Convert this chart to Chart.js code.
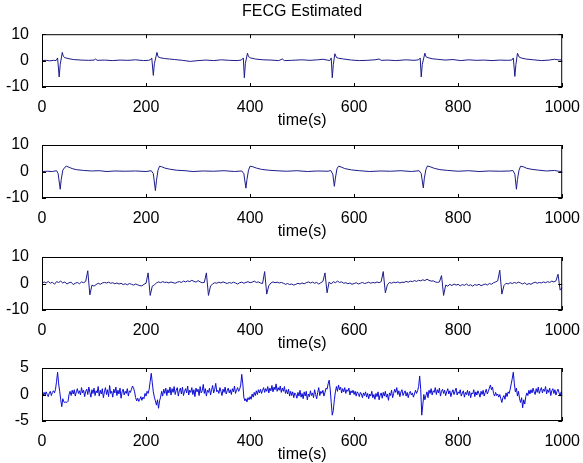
<!DOCTYPE html>
<html>
<head>
<meta charset="utf-8">
<script src="https://cdn.jsdelivr.net/npm/chart.js@4"></script>
<style>
  html, body { margin: 0; padding: 0; background: #fff; }
  #figure { position: relative; width: 583px; height: 463px; overflow: hidden; background: #fff; }
  #figure canvas { position: absolute; left: 0; }
</style>
</head>
<body>
<div id="figure">
  <canvas id="panel1" width="583" height="132" style="top:0px"></canvas>
  <canvas id="panel2" width="583" height="131" style="top:112px"></canvas>
  <canvas id="panel3" width="583" height="131" style="top:224px"></canvas>
  <canvas id="panel4" width="583" height="131" style="top:335px"></canvas>
</div>
<script>
// tick values
const timeTicks = [0, 200, 400, 600, 800, 1000];
const wideTicks = [-10, 0, 10];
const narrowTicks = [-5, 0, 5];

// trace 1: estimated FECG (sparse breakpoints)
const trace1Time = [0, 8, 15, 22, 27, 30, 33, 35, 39, 41, 44, 50, 60, 75, 90, 100, 103, 106, 120, 135, 150, 165, 180, 195,
  205, 209, 211, 214, 216, 221, 223, 227, 235, 245, 255, 270, 285, 300, 315, 330, 345, 360, 375,
  383, 387, 389, 391, 395, 397, 401, 410, 425, 440, 455, 462, 466, 480, 500, 515, 530, 540,
  548, 553, 556, 558, 560, 563, 566, 570, 580, 595, 610, 625, 640, 648, 652, 665, 680, 700, 715,
  724, 727, 729, 731, 736, 738, 742, 750, 760, 775, 790, 805, 820, 835, 850, 865, 880, 895,
  903, 906, 909, 911, 914, 917, 921, 930, 945, 960, 975, 985, 992, 1000];
const trace1Values = [0, 0.1, -0.1, 0.1, 0.0, 1.0, -6.2, -1.5, 3.1, 1.6, 1.1, 0.8, 0.4, 0.2, 0.1, 0.2, 0.6, 0.1, 0.2, 0.0, 0.2, 0.1, 0.3, 0.0,
  0.1, 0.4, 1.0, -5.6, -1.2, 3.1, 1.5, 1.1, 0.8, 0.6, 0.4, 0.1, -0.3, 0.0, 0.2, 0.0, 0.3, 0.1, 0.0,
  0.2, 1.0, -6.5, -1.0, 2.8, 1.5, 1.0, 0.6, 0.3, 0.2, 0.0, 0.6, 0.0, 0.1, 0.3, 0.1, 0.3, 0.5,
  0.2, 0.0, 1.0, -6.5, -1.5, 2.6, 1.2, 0.9, 0.6, 0.2, 0.0, 0.1, 0.3, 0.6, 0.1, 0.2, 0.0, 0.3, 0.1,
  0.3, 1.0, -6.2, -1.5, 2.8, 1.5, 1.1, 0.7, 0.5, 0.2, 0.4, 0.0, 0.3, 0.1, 0.2, 0.0, 0.2, 0.1,
  0.2, 1.0, -6.0, -1.5, 2.8, 1.4, 1.0, 0.6, 0.3, 0.0, 0.2, 0.5, 0.3, 0.2];

// trace 2: estimated FECG, second channel
const trace2Time = [0, 10, 20, 28, 31, 35, 37, 40, 44, 47, 52, 58, 66, 80, 95, 110, 125, 140, 160, 180, 200,
  210, 214, 218, 220, 223, 226, 230, 236, 245, 258, 275, 290, 310, 330, 350, 370,
  384, 388, 392, 394, 397, 400, 405, 412, 422, 435, 450, 470, 490, 510, 530, 550,
  555, 559, 562, 564, 567, 570, 575, 582, 595, 610, 630, 650, 670, 690, 710,
  725, 729, 733, 735, 738, 741, 746, 754, 765, 780, 800, 820, 840, 860, 880, 900,
  905, 909, 912, 914, 917, 920, 925, 932, 942, 955, 970, 985, 993, 1000];
const trace2Values = [0, 0.1, 0.0, 0.3, -0.8, -6.7, -3.0, 0.5, 1.6, 2.0, 1.6, 1.1, 0.7, 0.4, 0.2, 0.3, 0.0, 0.2, 0.1, 0.2, 0.0,
  0.3, -0.8, -7.2, -3.5, 0.5, 2.0, 1.8, 1.3, 0.9, 0.5, 0.3, 0.0, 0.2, 0.1, 0.3, 0.0,
  0.2, -0.8, -6.3, -3.0, 0.5, 2.0, 1.8, 1.3, 0.8, 0.5, 0.3, 0.1, 0.3, 0.0, 0.2, 0.1,
  0.4, -1.0, -5.6, -2.5, 1.0, 2.0, 1.7, 1.1, 0.6, 0.3, 0.0, 0.2, 0.1, 0.3, 0.0,
  0.3, -0.8, -6.2, -2.5, 0.8, 2.1, 1.8, 1.2, 0.7, 0.4, 0.1, 0.3, 0.0, 0.2, 0.1, 0.2,
  0.4, -1.0, -6.7, -3.0, 0.5, 2.0, 1.8, 1.2, 0.8, 0.5, 0.2, 0.4, 0.1, 0.0];

// trace 3: one sample every 4 time units, starting at 0
const trace3Step = 4;
const trace3Values = [
  0.0, 0.6, 0.2, 0.8, 0.1, 0.5, -0.3, 0.7, 0.4, 0.9,
  0.2, 0.6, -0.2, 0.3, 0.5, -0.4, 0.1, 0.4, -0.1, 0.6,
  0.3, 0.8, 4.8, -4.3, -0.6, -1.0, -0.4, 0.1, -0.3, 0.2,
  0.4, 0.2, 0.5, 0.1, 0.3, -0.1, 0.2, -0.2, 0.1, -0.4,
  -0.1, -0.5, 0.0, -0.3, -0.6, -0.2, -0.5, -0.8, -0.9, -0.3,
  0.1, 4.0, -4.5, -1.0, -0.5, 0.2, 0.6, 0.3, 0.7, 0.4,
  0.5, 0.2, 0.6, 0.3, 0.1, 0.5, 0.7, 0.4, 0.9, 0.6,
  1.0, 0.7, 1.2, 0.8, 0.5, 1.1, 0.6, 0.3, 0.4, 4.0,
  -4.5, -0.9, -0.2, 0.3, 0.1, 0.5, 0.2, 0.6, 0.3, 0.0,
  0.4, 0.1, 0.5, 0.2, -0.2, 0.3, 0.5, 0.1, 0.4, 0.7,
  0.3, 0.5, 0.9, 0.4, 0.6, 0.2, 0.0, 4.5, -4.0, -0.8,
  0.2, 0.6, 0.3, 0.5, 0.2, 0.4, 0.1, -0.3, 0.0, -0.4,
  -0.2, -0.6, -0.3, 0.1, -0.2, 0.2, -0.1, 0.3, 0.6, 0.2,
  0.5, 0.1, 0.4, -0.2, 0.3, 0.8, 4.0, -3.5, 0.6, -0.2,
  0.7, 0.3, 0.9, 0.4, 0.6, 0.1, 0.3, -0.1, 0.2, -0.3,
  0.0, 0.3, -0.2, 0.1, 0.4, 0.0, 0.2, 0.5, 0.1, 0.4,
  0.2, 0.6, 0.3, 0.7, 4.5, -3.5, -0.5, 0.4, 0.1, 0.5,
  0.3, 0.6, 0.2, 0.5, 0.4, 0.8, 0.5, 0.9, 0.7, 1.1,
  0.8, 1.2, 1.0, 1.4, 1.1, 1.6, 1.2, 0.9, 1.0, 0.6,
  0.4, 0.6, 3.0, -4.5, -0.6, -1.0, -0.3, -0.8, -0.2, -0.6,
  -0.3, -0.9, -0.4, -0.7, -0.2, -0.8, -0.5, -1.0, -0.4, -0.7,
  -0.3, -0.8, -0.5, -0.2, -0.6, 0.0, -0.3, 0.3, 0.6, 1.0,
  5.0, -4.0, -0.8, 0.1, -0.2, 0.3, 0.0, 0.4, 0.1, 0.5,
  0.2, -0.2, 0.3, -0.4, 0.0, -0.3, 0.2, 0.5, 0.1, 0.4,
  0.2, 0.6, 0.3, 0.7, 0.4, 0.9, 0.6, 1.0, 3.5, -2.5,
  -1.5];

// trace 4: one sample every 2 time units, starting at 0
const trace4Step = 2;
const trace4Values = [
  0.2, -0.3, 0.4, -0.1, 0.5, 0.0, -0.4, 0.3, 0.6, -0.2,
  0.4, 0.7, 0.3, 1.0, 2.5, 4.2, 2.0, 0.6, -1.0, -2.3,
  -0.8, -1.4, -1.5, -1.4, -1.5, -1.3, 0.0, 0.6, -0.2, 0.8,
  0.1, 0.9, -0.3, 0.5, 1.1, 0.2, 0.7, -0.1, 1.3, 0.3,
  0.8, -0.4, 0.6, 1.0, 0.0, 1.4, 0.4, -0.5, 0.9, 0.2,
  1.2, -0.2, 0.7, 0.3, 1.5, -0.3, 0.8, 0.1, 1.1, -0.6,
  0.5, 1.3, 0.0, 0.9, -0.4, 1.7, 0.2, 0.6, -0.5, 1.0,
  0.3, 1.4, -0.2, 0.8, 0.1, 1.2, -0.7, 0.5, 1.0, -0.1,
  0.6, 0.2, 1.1, -0.3, 0.7, 0.4, 1.0, 1.6, 1.2, 0.5,
  -0.6, -1.2, -0.7, -1.3, -0.9, -0.4, -1.1, -0.5, -0.8, 0.2,
  -0.3, 0.6, 0.2, 1.0, 2.5, 4.0, 2.2, 0.5, -0.5, -1.2,
  -2.0, -1.0, -2.6, -1.2, -0.5, 0.6, -0.3, 1.0, 0.2, 1.2,
  -0.2, 0.9, 0.3, 1.4, -0.1, 1.1, 0.4, 1.5, 0.0, 0.8,
  1.3, -0.3, 0.7, 1.2, 0.1, 1.4, -0.2, 0.6, 1.1, 0.3,
  1.6, -0.1, 0.8, 0.4, 1.3, 0.0, 0.9, -0.4, 1.2, 0.5,
  1.0, -0.2, 1.5, 0.3, 0.7, 1.9, 0.2, 1.1, -0.3, 0.8,
  0.4, 1.2, -0.1, 0.9, 1.7, 0.3, 1.0, 2.1, 0.5, 0.8,
  0.2, 1.3, 0.6, -0.2, 1.0, 0.4, 1.4, 0.1, 0.7, 1.2,
  0.3, 0.9, 0.0, 1.1, 0.5, 1.6, 0.2, 0.8, 1.3, 0.6,
  1.0, 1.8, 3.8, 2.0, -0.5, -1.2, -0.8, -1.4, -0.6, -1.0,
  -0.4, -0.9, 0.1, -0.5, 0.4, -0.2, 0.7, 0.0, 0.9, 0.3,
  1.0, 0.2, 0.8, 1.3, 0.4, 1.1, 0.6, 1.5, 0.3, 1.2,
  0.7, 1.7, 0.5, 1.4, 0.9, 2.0, 0.6, 1.3, 0.8, 1.6,
  0.4, 1.2, 0.6, 1.5, 0.2, 0.9, 0.1, 1.0, -0.3, 0.6,
  -0.2, 0.5, -0.6, 0.3, 0.0, -0.7, 0.4, -0.3, 0.8, -0.5,
  0.2, -0.8, 0.5, -0.3, 0.6, -1.0, 0.1, -0.4, 0.7, -0.2,
  0.3, -0.6, 0.9, 0.0, -0.8, 0.4, 1.3, -0.2, 0.6, 0.2,
  0.8, -0.3, 0.4, 1.2, 1.0, 2.0, 2.7, 1.0, -1.5, -3.9,
  -3.0, -1.0, 0.5, 1.5, 0.6, 1.8, 0.9, 1.4, 0.3, 1.1,
  0.5, 1.3, 0.2, 0.9, 0.6, 1.2, -0.1, 0.7, 0.3, 0.8,
  0.0, 0.6, -0.3, 0.5, 0.2, -0.4, 0.4, 0.1, -0.6, 0.3,
  -0.2, 0.5, -0.5, 0.2, -0.8, 0.1, -0.3, 0.6, -0.6, 0.0,
  -0.9, 0.2, -0.4, 0.5, -1.0, -0.1, 0.3, -0.7, 0.4, -0.3,
  0.6, -0.5, 0.1, -1.1, 0.3, -0.2, 0.8, -0.6, 0.2, 1.0,
  0.4, 1.3, 0.0, 0.7, -0.4, 0.5, 0.9, -0.2, 0.3, 0.7,
  -0.3, 0.4, -0.6, 0.2, 0.6, -0.1, 0.3, -0.5, 0.1, 0.8,
  0.2, 0.7, 1.5, 3.5, 1.0, -3.9, -2.0, 0.0, -1.0, -0.2,
  0.5, -0.6, 0.8, 0.2, 1.1, -0.1, 0.7, 0.4, 1.3, 0.0,
  0.9, 0.3, 1.2, -0.3, 0.6, 1.0, 0.2, 0.8, -0.2, 0.5,
  1.1, 0.1, 0.7, -0.4, 0.4, 0.9, 0.0, 0.6, 1.2, -0.1,
  0.5, 0.2, 0.9, -0.3, 0.3, 0.7, -0.5, 0.4, 0.0, 0.8,
  -0.2, 0.6, -0.6, 0.3, 0.1, 0.9, -0.4, 0.5, -0.1, 0.7,
  0.2, -0.5, 0.6, 0.0, 0.8, -0.3, 0.4, 1.0, 0.1, 0.6,
  1.2, 1.8, 0.9, 1.4, 0.2, -0.3, 0.4, -0.2, 0.1, -0.5,
  0.0, -0.8, -1.5, -0.6, -0.2, -0.9, 0.3, -0.4, 0.5, 0.2,
  1.0, 2.0, 3.0, 4.2, 2.0, 0.5, 1.2, -0.3, 0.6, -0.8,
  -1.5, -0.6, -2.5, -1.0, -1.8, -0.4, 0.3, -0.2, 0.8, 0.1,
  0.9, 0.3, 1.2, 0.5, 0.0, 1.1, 0.4, 1.4, 0.2, 0.8,
  1.3, 0.3, 1.0, 0.6, 1.5, 0.1, 0.9, 0.4, 1.2, -0.2,
  0.7, 1.1, 0.2, 0.9, -0.1, 0.6, 1.0, 0.3, -0.3, 0.5,
  0.0];

Chart.defaults.font.family = '"Liberation Sans", Arial, Helvetica, sans-serif';
Chart.defaults.font.size = 16;
Chart.defaults.color = '#000';

// closed black frame with inward tick marks on all four sides
const axesBox = {
  id: 'axesBox',
  afterDraw(chart) {
    const { ctx, chartArea: a, scales: { x, y } } = chart;
    const len = 4;
    ctx.save();
    ctx.strokeStyle = '#000';
    ctx.lineWidth = 1;
    ctx.strokeRect(a.left + 0.5, a.top + 0.5, a.width - 1, a.height - 1);
    ctx.beginPath();
    x.ticks.forEach((t) => {
      const px = Math.round(x.getPixelForValue(t.value)) + 0.5;
      ctx.moveTo(px, a.top);
      ctx.lineTo(px, a.top + len);
      ctx.moveTo(px, a.bottom);
      ctx.lineTo(px, a.bottom - len);
    });
    y.ticks.forEach((t) => {
      const py = Math.round(y.getPixelForValue(t.value)) + 0.5;
      ctx.moveTo(a.left, py);
      ctx.lineTo(a.left + len, py);
      ctx.moveTo(a.right, py);
      ctx.lineTo(a.right - len, py);
    });
    ctx.stroke();
    ctx.restore();
  },
};

function drawPanel(canvasId, points, yTicks, lineColor, title) {
  new Chart(document.getElementById(canvasId), {
    type: 'line',
    data: {
      datasets: [{
        data: points,
        borderColor: lineColor,
        borderWidth: 1,
        pointRadius: 0,
        tension: 0,
        fill: false,
      }],
    },
    options: {
      responsive: false,
      animation: false,
      devicePixelRatio: 1,
      events: [],
      layout: { padding: { top: title ? 0 : 33, right: 19, bottom: 0, left: 0 } },
      plugins: {
        legend: { display: false },
        tooltip: { enabled: false },
        title: {
          display: !!title,
          text: title || '',
          fullSize: false,
          color: '#000',
          font: { size: 16, weight: 'normal' },
          padding: { top: 2, bottom: 13 },
        },
      },
      scales: {
        x: {
          type: 'linear',
          min: 0,
          max: 1000,
          grid: { display: false },
          border: { display: false },
          afterBuildTicks: (s) => { s.ticks = timeTicks.map((v) => ({ value: v })); },
          afterFit: (s) => { s.height = 45; },
          ticks: { padding: 3, maxRotation: 0, autoSkip: false, callback: (v) => String(v) },
          title: { display: true, text: 'time(s)', padding: { top: 0, bottom: 2 }, font: { size: 16 } },
        },
        y: {
          type: 'linear',
          min: yTicks[0],
          max: yTicks[yTicks.length - 1],
          grid: { display: false },
          border: { display: false },
          afterBuildTicks: (s) => { s.ticks = yTicks.map((v) => ({ value: v })); },
          afterFit: (s) => { s.width = 42; },
          ticks: { padding: 5, callback: (v) => String(v) },
        },
      },
    },
    plugins: [axesBox],
  });
}

const toPoints = (times, values) => values.map((v, i) => ({ x: times[i], y: v }));
const sampled = (step, values) => values.map((v, i) => ({ x: i * step, y: v }));

drawPanel('panel1', toPoints(trace1Time, trace1Values), wideTicks, '#1c1c8a', 'FECG Estimated');
drawPanel('panel2', toPoints(trace2Time, trace2Values), wideTicks, '#1c1c8a');
drawPanel('panel3', sampled(trace3Step, trace3Values), wideTicks, '#1c1c8a');
drawPanel('panel4', sampled(trace4Step, trace4Values), narrowTicks, '#0c0cd4');
</script>
</body>
</html>
